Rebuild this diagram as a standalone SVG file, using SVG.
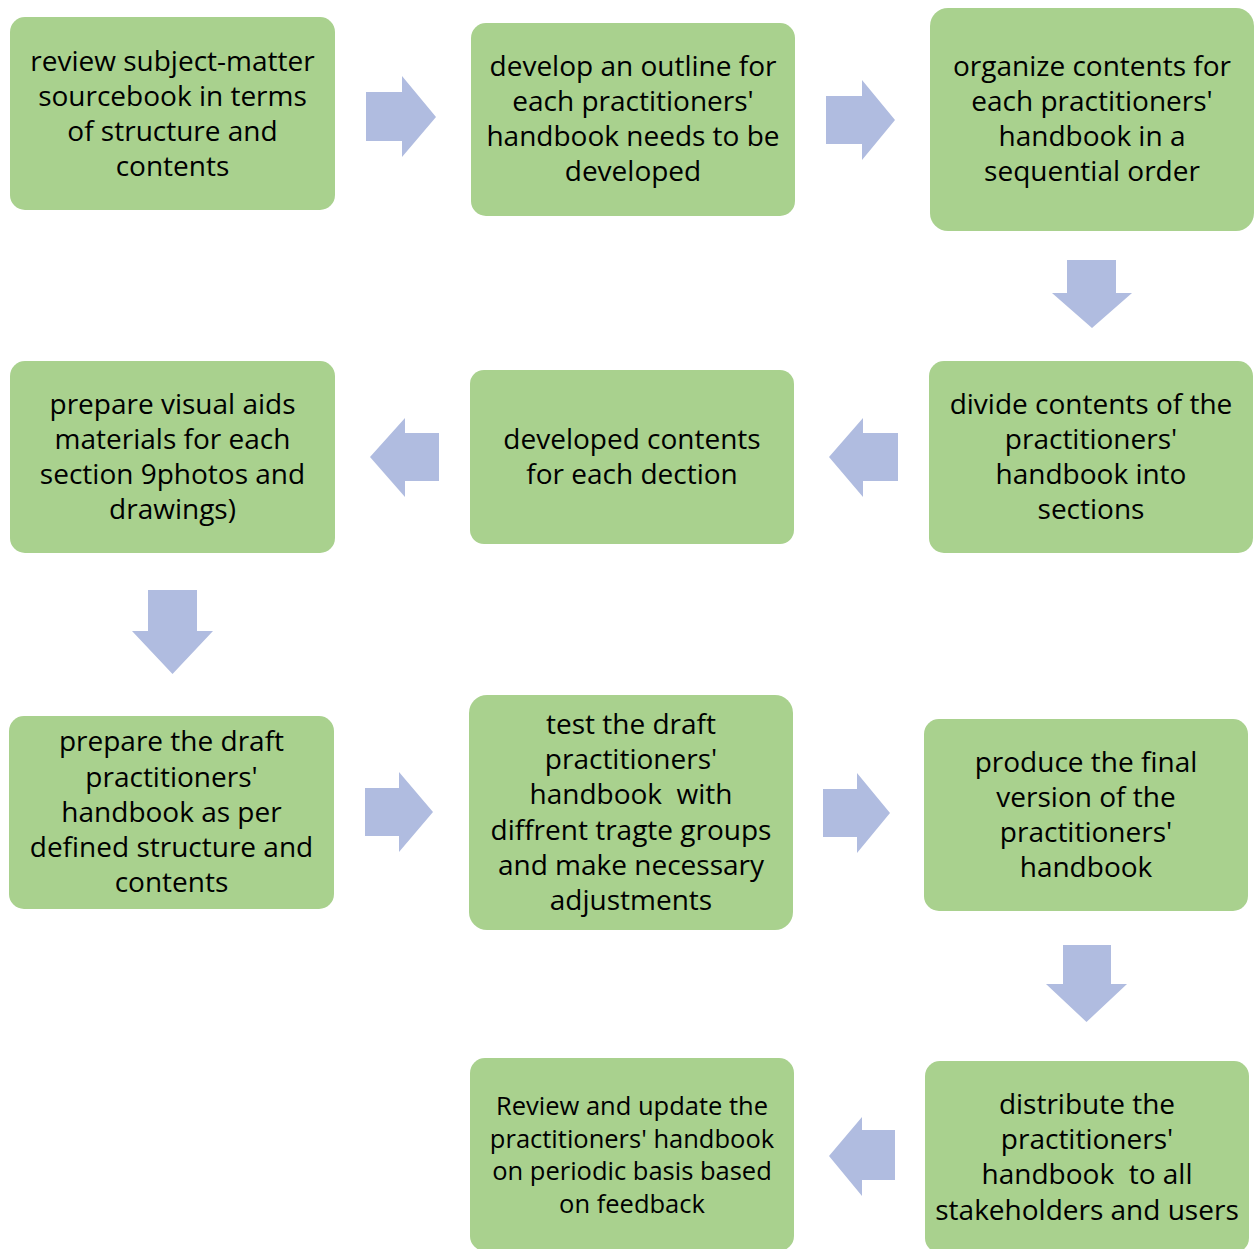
<svg xmlns="http://www.w3.org/2000/svg" width="1257" height="1249" viewBox="0 0 1257 1249">
<style>
.box{fill:#A9D18E}
.arr{fill:#B0BCE0}
text{font-family:"Open Sans","Liberation Sans",sans-serif;font-size:28px;fill:#000;text-anchor:middle}
.sm{font-size:25.5px}
</style>
<rect width="1257" height="1249" fill="#fff"/>
<g id="connectors">
<polygon class="arr" points="366,92 402,92 402,76 436,117 402,157 402,141 366,141"/>
<polygon class="arr" points="826,96 862,96 862,80 895,120 862,160 862,144 826,144"/>
<polygon class="arr" points="1067,260 1116,260 1116,293 1132,293 1092,328 1052,293 1067,293"/>
<polygon class="arr" points="898,433 863,433 863,418 829,457 863,497 863,481 898,481"/>
<polygon class="arr" points="439,433 405,433 405,418 370,457 405,497 405,481 439,481"/>
<polygon class="arr" points="148,590 197,590 197,631 213,631 172.5,674 132,631 148,631"/>
<polygon class="arr" points="365,788 399,788 399,772 433,812 399,852 399,836 365,836"/>
<polygon class="arr" points="823,789 857,789 857,773 890,813 857,853 857,837 823,837"/>
<polygon class="arr" points="1063,945 1111,945 1111,984 1127,984 1086.5,1022 1046,984 1063,984"/>
<polygon class="arr" points="895,1130 862,1130 862,1117 829,1156 862,1196 862,1180 895,1180"/>
</g>
<g id="n1">
<rect class="box" x="10" y="17" width="325" height="193" rx="15"/>
<text><tspan x="172.5" y="70.5">review subject-matter</tspan><tspan x="172.5" y="105.5">sourcebook in terms</tspan><tspan x="172.5" y="140.5">of structure and</tspan><tspan x="172.5" y="175.5">contents</tspan></text>
</g>
<g id="n2">
<rect class="box" x="471" y="23" width="324" height="193" rx="15"/>
<text><tspan x="633" y="76">develop an outline for</tspan><tspan x="633" y="111">each practitioners'</tspan><tspan x="633" y="146">handbook needs to be</tspan><tspan x="633" y="181">developed</tspan></text>
</g>
<g id="n3">
<rect class="box" x="930" y="8" width="324" height="223" rx="18"/>
<text><tspan x="1092" y="76">organize contents for</tspan><tspan x="1092" y="111">each practitioners'</tspan><tspan x="1092" y="146">handbook in a</tspan><tspan x="1092" y="181">sequential order</tspan></text>
</g>
<g id="n4">
<rect class="box" x="929" y="361" width="324" height="192" rx="15"/>
<text><tspan x="1091" y="414">divide contents of the</tspan><tspan x="1091" y="449">practitioners'</tspan><tspan x="1091" y="484">handbook into</tspan><tspan x="1091" y="519">sections</tspan></text>
</g>
<g id="n5">
<rect class="box" x="470" y="370" width="324" height="174" rx="14"/>
<text><tspan x="632" y="449">developed contents</tspan><tspan x="632" y="484">for each dection</tspan></text>
</g>
<g id="n6">
<rect class="box" x="10" y="361" width="325" height="192" rx="15"/>
<text><tspan x="172.5" y="414">prepare visual aids</tspan><tspan x="172.5" y="449">materials for each</tspan><tspan x="172.5" y="484">section 9photos and</tspan><tspan x="172.5" y="519">drawings)</tspan></text>
</g>
<g id="n7">
<rect class="box" x="9" y="716" width="325" height="193" rx="15"/>
<text><tspan x="171.5" y="751">prepare the draft</tspan><tspan x="171.5" y="787">practitioners'</tspan><tspan x="171.5" y="822">handbook as per</tspan><tspan x="171.5" y="857">defined structure and</tspan><tspan x="171.5" y="892">contents</tspan></text>
</g>
<g id="n8">
<rect class="box" x="469" y="695" width="324" height="235" rx="18"/>
<text xml:space="preserve"><tspan x="631" y="734">test the draft</tspan><tspan x="631" y="769">practitioners'</tspan><tspan x="631" y="804">handbook  with</tspan><tspan x="631" y="840">diffrent tragte groups</tspan><tspan x="631" y="875">and make necessary</tspan><tspan x="631" y="910">adjustments</tspan></text>
</g>
<g id="n9">
<rect class="box" x="924" y="719" width="324" height="192" rx="15"/>
<text><tspan x="1086" y="772">produce the final</tspan><tspan x="1086" y="807">version of the</tspan><tspan x="1086" y="842">practitioners'</tspan><tspan x="1086" y="877">handbook</tspan></text>
</g>
<g id="n10">
<rect class="box" x="925" y="1061" width="324" height="192" rx="15"/>
<text xml:space="preserve"><tspan x="1087" y="1114">distribute the</tspan><tspan x="1087" y="1149">practitioners'</tspan><tspan x="1087" y="1184">handbook  to all</tspan><tspan x="1087" y="1220">stakeholders and users</tspan></text>
</g>
<g id="n11">
<rect class="box" x="470" y="1058" width="324" height="193" rx="15"/>
<text class="sm"><tspan x="632" y="1115">Review and update the</tspan><tspan x="632" y="1147.5">practitioners' handbook</tspan><tspan x="632" y="1180">on periodic basis based</tspan><tspan x="632" y="1212.5">on feedback</tspan></text>
</g>
</svg>
